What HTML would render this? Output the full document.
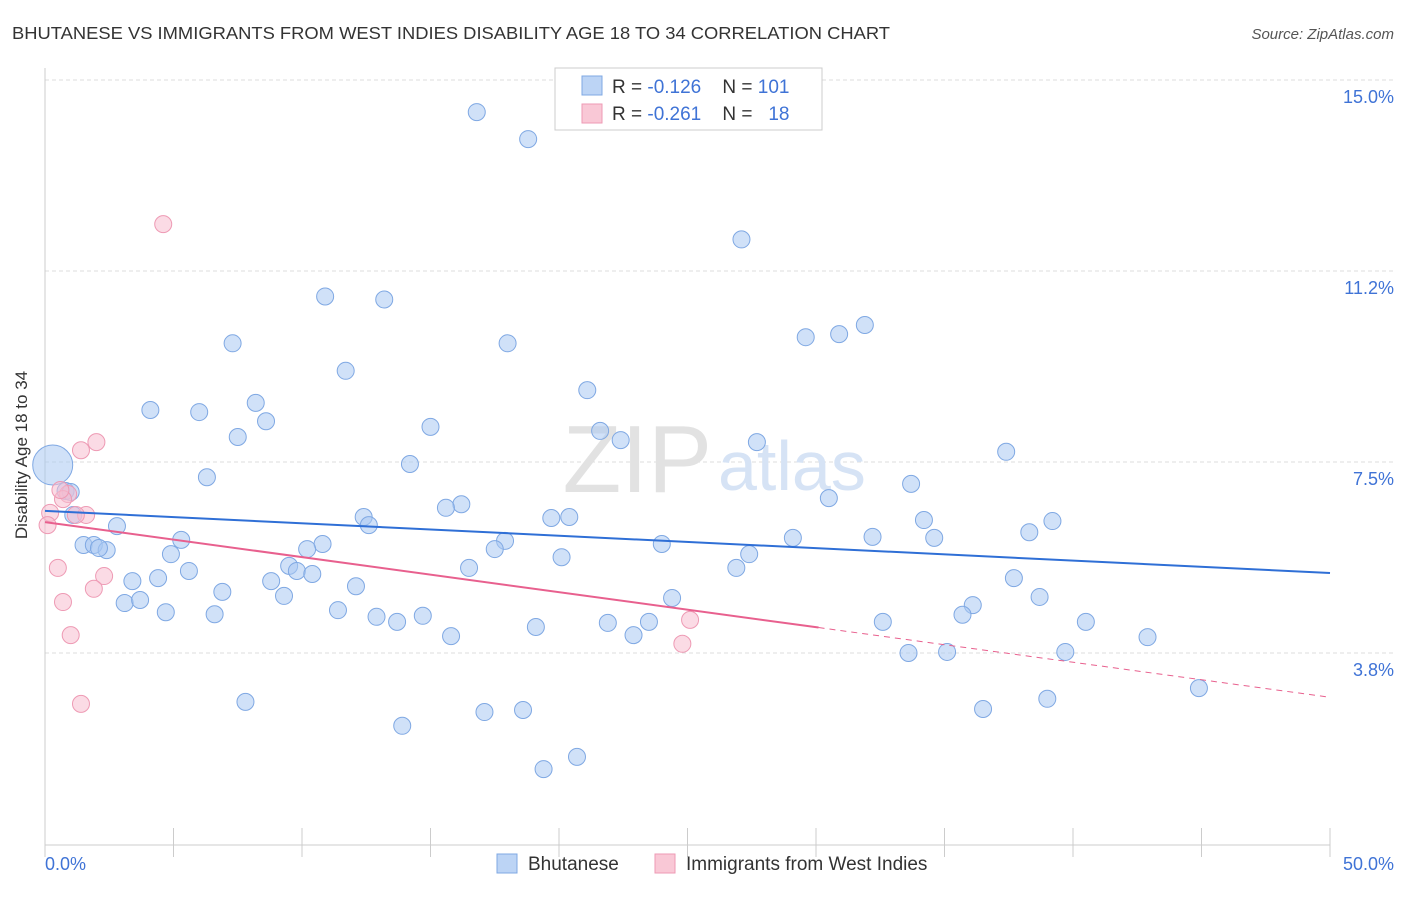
<!DOCTYPE html>
<html><head><meta charset="utf-8">
<style>
body{margin:0;background:#fff;font-family:"Liberation Sans",sans-serif;}
svg text{font-family:"Liberation Sans",sans-serif;}
</style></head>
<body>
<svg id="chart" width="1406" height="892" viewBox="0 0 1406 892">
<text x="12" y="39" font-size="17.5" fill="#333" textLength="878" lengthAdjust="spacingAndGlyphs">BHUTANESE VS IMMIGRANTS FROM WEST INDIES DISABILITY AGE 18 TO 34 CORRELATION CHART</text>
<text x="1394" y="39" font-size="15" fill="#555" font-style="italic" text-anchor="end">Source: ZipAtlas.com</text>
<g id="grid"></g>
<text x="712" y="492" font-size="96" fill="#e2e2e2" text-anchor="end" font-family="Liberation Serif">ZIP</text>
<text x="718" y="490" font-size="70" fill="#d6e3f5">atlas</text>
<line x1="45" y1="68" x2="45" y2="845" stroke="#ccc"/>
<line x1="45" y1="845" x2="1330" y2="845" stroke="#ccc"/>
<g id="xticks"></g>
<text x="27" y="455" font-size="17" fill="#333" text-anchor="middle" transform="rotate(-90 27 455)">Disability Age 18 to 34</text>
<text x="45" y="870" font-size="18" fill="#3f73d6">0.0%</text>
<text x="1394" y="870" font-size="18" fill="#3f73d6" text-anchor="end">50.0%</text>
<g id="points"></g>
<g id="trends"></g>
<g>
<rect x="555" y="68" width="267" height="62" fill="#fff" stroke="#ccc"/>
<rect x="582" y="76" width="20" height="19" fill="#bcd4f5" stroke="#7fa8e3"/>
<rect x="582" y="104" width="20" height="19" fill="#f9c8d6" stroke="#ee9ab4"/>
<text x="612" y="93" font-size="19" fill="#333">R = <tspan fill="#3f73d6">-0.126</tspan>&#160;&#160;&#160;&#160;N = <tspan fill="#3f73d6">101</tspan></text>
<text x="612" y="120" font-size="19" fill="#333">R = <tspan fill="#3f73d6">-0.261</tspan>&#160;&#160;&#160;&#160;N = &#160;&#160;<tspan fill="#3f73d6">18</tspan></text>
</g>
<g>
<rect x="497" y="854" width="20" height="19" fill="#bcd4f5" stroke="#7fa8e3"/>
<text x="528" y="870" font-size="19" fill="#333">Bhutanese</text>
<rect x="655" y="854" width="20" height="19" fill="#f9c8d6" stroke="#ee9ab4"/>
<text x="686" y="870" font-size="19" fill="#333">Immigrants from West Indies</text>
</g>
</svg>
<script>
const yTicks=[15.0,11.2,7.5,3.8];
const yTickVals=[15.0,11.25,7.5,3.75];
const xTickCount=10;
const blueX=[16.8,18.8,27.1,10.9,13.2,7.3,18.0,29.6,30.9,31.9,11.7,21.1,4.1,6.0,8.2,8.6,15.0,21.6,22.4,7.5,27.7,37.4,14.2,6.3,33.7,30.5,16.2,15.6,0.8,1.0,12.4,12.6,19.7,20.4,34.2,39.2,38.3,2.8,5.3,29.1,32.2,34.6,1.5,1.9,2.4,2.1,10.8,10.2,17.9,17.5,24.0,4.9,20.1,27.4,26.9,5.6,9.5,9.8,10.4,16.5,37.7,3.4,4.4,8.8,12.1,6.9,9.3,24.4,38.7,3.1,3.7,4.7,6.6,11.4,12.9,13.7,14.7,36.1,35.7,19.1,21.9,23.5,22.9,15.8,32.6,40.5,42.9,33.6,35.1,39.7,44.9,7.8,36.5,39.0,17.1,18.6,13.9,20.7,19.4,1.1,0.3];
const blueY=[14.37,13.84,11.87,10.75,10.69,9.83,9.83,9.95,10.01,10.19,9.29,8.91,8.52,8.48,8.66,8.30,8.19,8.11,7.93,7.99,7.89,7.70,7.46,7.20,7.07,6.79,6.67,6.60,6.93,6.91,6.42,6.26,6.40,6.42,6.36,6.34,6.12,6.24,5.97,6.01,6.03,6.01,5.87,5.87,5.77,5.81,5.89,5.79,5.95,5.79,5.89,5.69,5.63,5.69,5.42,5.36,5.46,5.36,5.30,5.42,5.22,5.16,5.22,5.16,5.06,4.95,4.87,4.83,4.85,4.73,4.79,4.55,4.51,4.59,4.46,4.36,4.48,4.69,4.50,4.26,4.34,4.36,4.10,4.08,4.36,4.36,4.06,3.75,3.77,3.77,3.06,2.79,2.65,2.85,2.59,2.63,2.32,1.71,1.47,6.46,7.44];
const pinkX=[4.6,2.0,1.4,0.9,0.7,0.2,0.1,1.6,1.2,0.5,2.3,1.9,0.7,1.0,1.4,25.1,24.8,0.6];
const pinkY=[12.17,7.89,7.73,6.87,6.77,6.50,6.26,6.46,6.46,5.42,5.26,5.01,4.75,4.10,2.75,4.40,3.93,6.95];
const blueTrend=[6.54,5.32];
const pinkTrend=[6.32,2.88];
const pinkSolidEnd=30.1;

const NS="http://www.w3.org/2000/svg";
const X=v=>45+v/50*1285;
const Y=v=>80+(15-v)*50.93;
function mk(tag,attrs,parent){const e=document.createElementNS(NS,tag);for(const k in attrs)e.setAttribute(k,attrs[k]);parent.appendChild(e);return e;}
const grid=document.getElementById('grid');
yTickVals.forEach((v,i)=>{
  const l=mk('line',{x1:45,x2:1395,y1:Y(v),y2:Y(v),stroke:'#ddd','stroke-dasharray':'4,3'},grid);
  
  
  const t=mk('text',{x:1394,y:Y(v)+23,'font-size':18,fill:'#3f73d6','text-anchor':'end'},grid);
  t.textContent=yTicks[i].toFixed(1)+'%';
  
  
});
const xt=document.getElementById('xticks');
for(let i=0;i<=xTickCount;i++){
  const l=mk('line',{x1:X(i*5),x2:X(i*5),y1:828,y2:857,stroke:'#ccc'},xt);
  
  
}
const pts=document.getElementById('points');
blueX.forEach((x,i)=>{
  const big=i===blueX.length-1;
  const c=mk('circle',{cx:X(x),cy:Y(blueY[i]),r:big?20:8.5,fill:'rgba(170,200,242,0.55)',stroke:'#7fa8e3','stroke-width':1},pts);
  
  
});
pinkX.forEach((x,i)=>{
  const c=mk('circle',{cx:X(x),cy:Y(pinkY[i]),r:8.5,fill:'rgba(248,190,208,0.55)',stroke:'#ee9ab4','stroke-width':1},pts);
  
  
});
const tr=document.getElementById('trends');
const b=mk('line',{x1:X(0),y1:Y(blueTrend[0]),x2:X(50),y2:Y(blueTrend[1]),stroke:'#2f6fd6','stroke-width':2},tr);


const py=x=>pinkTrend[0]+(pinkTrend[1]-pinkTrend[0])*x/50;
const p1=mk('line',{x1:X(0),y1:Y(pinkTrend[0]),x2:X(pinkSolidEnd),y2:Y(py(pinkSolidEnd)),stroke:'#e8608e','stroke-width':2},tr);


const p2=mk('line',{x1:X(pinkSolidEnd),y1:Y(py(pinkSolidEnd)),x2:X(50),y2:Y(pinkTrend[1]),stroke:'#e8608e','stroke-width':1,'stroke-dasharray':'6,5'},tr);


</script>
</body></html>
